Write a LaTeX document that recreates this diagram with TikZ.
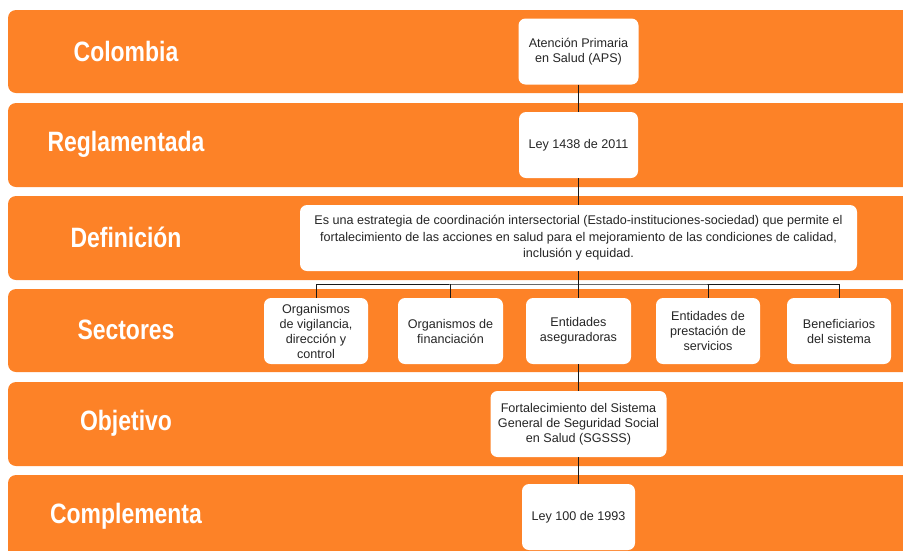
\documentclass[tikz,border=0pt]{standalone}
\usepackage{fontspec}
\usetikzlibrary{scopes}
\setmainfont{Liberation Sans}
\newfontfamily\bandfont[FakeStretch=0.82]{Liberation Sans}
\definecolor{naranja}{RGB}{253,130,39}
\definecolor{texto}{RGB}{38,38,38}
\begin{document}
\begin{tikzpicture}[x=1pt,y=-1pt,
    band/.style={fill=naranja,rounded corners=8pt},
    tag/.style={text=white,font=\bandfont\bfseries\fontsize{28}{30}\selectfont},
    box/.style={fill=white,rounded corners=7pt,text=texto,align=center,inner sep=0pt,
        minimum height=66pt,font=\fontsize{12.6}{15}\selectfont},
    link/.style={draw=black!90,line width=1pt},
]
	\useasboundingbox (0,0) rectangle (903,550);
	{[band]
	\fill (8,10) rectangle (915,93);  % colombia
	\fill (8,103) rectangle (915,187);  % reglamentada
	\fill (8,196) rectangle (915,280);  % definicion
	\fill (8,289) rectangle (915,372);  % sectores
	\fill (8,382) rectangle (915,466);  % objetivo
	\fill (8,475) rectangle (915,565);  % complementa
	}
	% row titles
	\node [tag] (tColombia) at (126,51) {Colombia};
	\node [tag] (tRegla) at (126,144) {Reglamentada};
	\node [tag] (tDef) at (126,237) {Definición};
	\node [tag] (tSect) at (126,330) {Sectores};
	\node [tag] (tObj) at (126,423) {Objetivo};
	\node [tag] (tComp) at (126,516) {Complementa};
	% white boxes
	\node [box,minimum width=120pt] (aps) at (578.5,51.5) {Atención Primaria\\en Salud (APS)};
	\node [box,minimum width=119pt] (ley1438) at (578.5,145) {Ley 1438 de 2011};
	\node [box,minimum width=557pt,font=\fontsize{12.6}{16.5}\selectfont] (def) at (578.5,238)
	    {Es una estrategia de coordinación intersectorial (Estado-instituciones-sociedad) que permite el\\
	     fortalecimiento de las acciones en salud para el mejoramiento de las condiciones de calidad,\\
	     inclusión y equidad.};
	\node [box,minimum width=104pt] (s1) at (316,331) {Organismos\\de vigilancia,\\dirección y\\control};
	\node [box,minimum width=105pt] (s2) at (450.5,331) {Organismos de\\financiación};
	\node [box,minimum width=105pt] (s3) at (578.5,331) {Entidades\\aseguradoras};
	\node [box,minimum width=104pt] (s4) at (708,331) {Entidades de\\prestación de\\servicios};
	\node [box,minimum width=104pt] (s5) at (839,331) {Beneficiarios\\del sistema};
	\node [box,minimum width=176pt] (obj) at (578.5,424) {Fortalecimiento del Sistema\\General de Seguridad Social\\en Salud (SGSSS)};
	\node [box,minimum width=113pt] (ley100) at (578.5,517) {Ley 100 de 1993};
	\coordinate (branch) at (578.5,284);
	{[link]
	\draw (aps) -- (ley1438);
	\draw (ley1438) -- (def);
	\draw (def.south) -- (s3.north);
	\draw (s1.north) |- (branch) -| (s5.north); % branch line
	\draw (s2.north) -- (s2.north |- branch);
	\draw (s4.north) -- (s4.north |- branch);
	\draw (s3.south) -- (obj.north);
	\draw (obj) -- (ley100);
	}
\end{tikzpicture}
\end{document}
